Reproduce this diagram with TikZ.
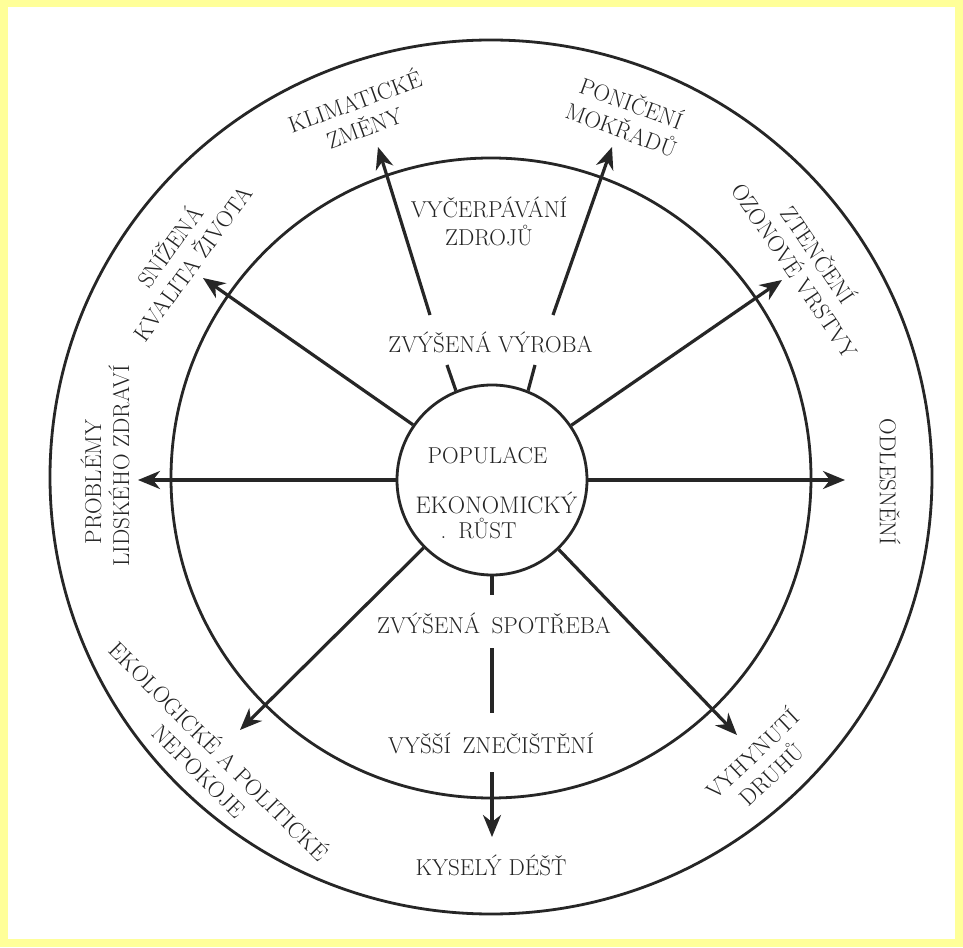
\documentclass[tikz,border=0pt]{standalone}
\usetikzlibrary{arrows.meta}
\definecolor{ink}{HTML}{262626}
\definecolor{txt}{HTML}{242424}
\definecolor{framecol}{HTML}{FFFF99}
\begin{document}
\begin{tikzpicture}[x=1pt,y=1pt,
  ring/.style={draw=ink, line width=2.8pt},
  arr/.style={draw=ink, line width=3.2pt, -{Stealth[length=22pt,width=18pt,inset=7pt]}},
  ln/.style={draw=ink, line width=3.2pt},
  lbl/.style={text=txt, font=\fontsize{23}{28}\selectfont, align=center, inner sep=0pt},
]
\useasboundingbox (-491,-469) rectangle (472,478);
\fill[framecol] (-491,-469) rectangle (472,478);
\fill[white] (-483,-461) rectangle (464,471);

% rings
\draw[ring] (0,1) ellipse [x radius=441, y radius=437];
\draw[ring] (0,0) circle [radius=320];
\node[circle, draw=ink, line width=2.8pt, minimum size=190pt, inner sep=0pt] (inner) at (1,-2) {};

% centre texts
\node[lbl] (pop) at (-3.5,22) {POPULACE};
\node[lbl, font=\fontsize{24}{28}\selectfont] (eko) at (5.5,-25) {EKONOMICKÝ};
\node[lbl] (rust) at (-12.5,-51) {.\hspace{12pt}RŮST};

% middle ring texts
\node[lbl] (vyr) at (-0.5,136) {ZVÝŠENÁ VÝROBA};
\node[lbl] (spo) at (3,-145) {ZVÝŠENÁ\hspace{0.5em}SPOTŘEBA};
\node[lbl] (vyc) at (-2,257) {VYČERPÁVÁNÍ\\ZDROJŮ};
\node[lbl] (zne) at (0,-265) {VYŠŠÍ\hspace{0.5em}ZNEČIŠTĚNÍ};

% outer ring texts
\node[lbl] (kys) at (0,-387) {KYSELÝ DÉŠŤ};
\node[lbl, rotate=20] (kli) at (-132,365) {KLIMATICKÉ\\ZMĚNY};
\node[lbl, rotate=-20.5] (pon) at (136,363) {PONIČENÍ\\MOKŘADŮ};
\node[lbl, rotate=54] (sni) at (-311,224) {SNÍŽENÁ\\KVALITA ŽIVOTA};
\node[lbl, rotate=-56] (zte) at (317,216) {ZTENČENÍ\\OZONOVÉ VRSTVY};
\node[lbl, rotate=90] (pro) at (-386,12) {\hspace*{-32pt}PROBLÉMY\\LIDSKÉHO ZDRAVÍ};
\node[lbl, rotate=-90] (odl) at (399,-4) {ODLESNĚNÍ};
\node[lbl, rotate=-45] (ekol) at (-281,-282) {EKOLOGICKÉ A POLITICKÉ\\NEPOKOJE};
\node[lbl, rotate=43.5] (vyh) at (270,-285) {VYHYNUTÍ\\DRUHŮ};

% arrow ends
\coordinate (tW) at (-353,-2);
\coordinate (tE) at (354,-2);
\coordinate (tNW) at (-288,200);
\coordinate (tNE) at (291,198);
\coordinate (tSW) at (-251,-252);
\coordinate (tSE) at (246,-257);

\draw[arr] (inner) -- (tW);
\draw[arr] (inner) -- (tE);
\draw[arr] (inner) -- (tNW);
\draw[arr] (inner) -- (tNE);
\draw[arr] (inner) -- (tSW);
\draw[arr] (inner) -- (tSE);

% through "ZVYSENA VYROBA"
\coordinate (sL) at (-44,113);
\coordinate (bL) at (-61,163);
\coordinate (tL) at (-113,331);
\coordinate (sR) at (44,113);
\coordinate (bR) at (62,163);
\coordinate (tR) at (121,331);
\draw[ln] (inner.112) -- (sL);
\draw[ln] (inner.68) -- (sR);
\draw[arr] (bL) -- (tL);
\draw[arr] (bR) -- (tR);

% downwards
\coordinate (b1) at (1,-117);
\coordinate (b2) at (1,-170);
\coordinate (b3) at (1,-235);
\coordinate (b4) at (1,-294);
\coordinate (b5) at (1,-359);
\draw[ln] (inner.south) -- (b1);
\draw[ln] (b2) -- (b3);
\draw[arr] (b4) -- (b5);
\end{tikzpicture}
\end{document}
